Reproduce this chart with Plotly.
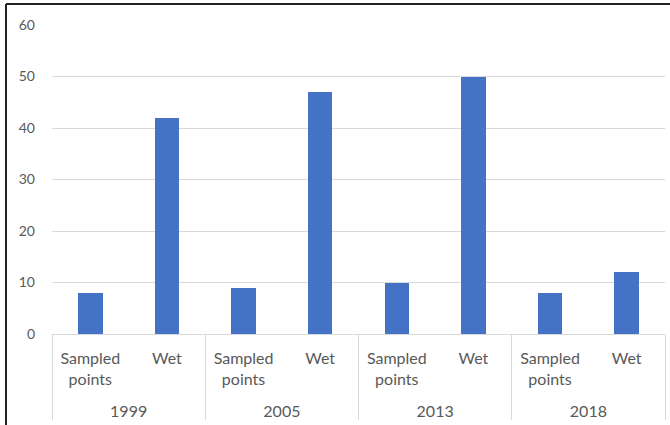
import plotly.graph_objects as go

years = ["1999", "1999", "2005", "2005", "2013", "2013", "2018", "2018"]
measures = ["Sampled<br>points<br>&nbsp;", "Wet<br>&nbsp;<br>&nbsp;"] * 4
values = [8, 42, 9, 47, 10, 50, 8, 12]
y_ticks = [0, 10, 20, 30, 40, 50, 60]

W, H = 670, 425
L, T = 52, 25
R = W - 665
B = H - 334
pw, ph = W - L - R, H - T - B

fig = go.Figure()
fig.add_trace(go.Bar(
    x=[years, measures], y=values,
    marker=dict(color="#4472C4", line=dict(width=0)),
    width=0.32,
))

fam = "Lato, 'Liberation Sans', sans-serif"

fig.update_layout(
    width=W, height=H,
    margin=dict(l=L, r=R, t=T, b=B, pad=0),
    paper_bgcolor="white", plot_bgcolor="white",
    showlegend=False,
    font=dict(family=fam, size=14, color="#595959"),
    bargap=0,
    xaxis=dict(
        type="multicategory",
        showline=True, linecolor="#d9d9d9", linewidth=1,
        showgrid=False, ticks="",
        showdividers=True, dividercolor="#d9d9d9", dividerwidth=1,
        ticklabelstandoff=10,
        tickfont=dict(family=fam, size=16, color="#595959"),
    ),
    yaxis=dict(
        range=[0, 60], tickvals=y_ticks,
        showgrid=True, gridcolor="#d9d9d9", gridwidth=1,
        zeroline=False, showline=False, ticks="",
        ticklabelstandoff=16,
        tickfont=dict(family=fam, size=14, color="#595959"),
    ),
    shapes=[
        dict(type="line", xref="paper", yref="paper",
             x0=(6 - L) / pw, x1=(6 - L) / pw, y0=1 + (T - 4) / ph, y1=-(B + 20) / ph,
             line=dict(color="#222222", width=2)),
        dict(type="line", xref="paper", yref="paper",
             x0=(6 - L) / pw, x1=1 + (R + 20) / pw, y0=1 + (T - 4) / ph, y1=1 + (T - 4) / ph,
             line=dict(color="#222222", width=2)),
    ],
)

fig.write_html("out.html", config={"displayModeBar": False},
               post_script="document.body.style.margin='0';")
